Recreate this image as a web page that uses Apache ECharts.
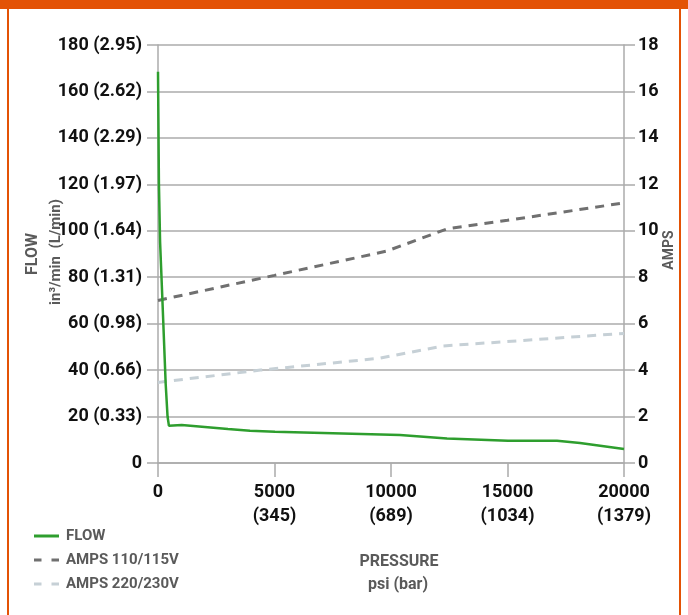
<!DOCTYPE html>
<html>
<head>
<meta charset="utf-8">
<script src="https://cdn.jsdelivr.net/npm/echarts@6/dist/echarts.min.js"></script>
<style>
  html, body { margin: 0; padding: 0; background: #fff; }
  #chart { width: 688px; height: 615px; }
</style>
</head>
<body>
<div id="chart"></div>
<script>
// ---- data ----
const flowPressure = [0, 40, 90, 190, 330, 410, 470, 515, 1017, 3000, 3949, 5022, 10386, 12404, 15022, 17125, 18112, 20000];
const flowValues   = [168.5, 120, 95, 70, 34, 20, 16, 15.4, 16.4, 14.6, 13.9, 13.5, 12.1, 10.6, 9.6, 9.6, 8.6, 6.0];

const amps110Pressure = [0, 5000, 9800, 12400, 15000, 20000];
const amps110Values   = [7.0, 8.08, 9.12, 10.08, 10.45, 11.2];

const amps220Pressure = [0, 4400, 9500, 12250, 20000];
const amps220Values   = [3.47, 4.0, 4.51, 5.04, 5.58];

const flowTickValues = [0, 20, 40, 60, 80, 100, 120, 140, 160, 180];
const flowTickLabels = ['0', '20 (0.33)', '40 (0.66)', '60 (0.98)', '80 (1.31)', '100 (1.64)', '120 (1.97)', '140 (2.29)', '160 (2.62)', '180 (2.95)'];
const pressureTickValues = [0, 5000, 10000, 15000, 20000];
const pressureTickLabels = ['0', '5000\n(345)', '10000\n(689)', '15000\n(1034)', '20000\n(1379)'];

const seriesNames = ['FLOW', 'AMPS 110/115V', 'AMPS 220/230V'];

// ---- chart ----
const FONT = "Roboto, 'Liberation Sans', sans-serif";
const GRID_C = '#ababab';
const TITLE_C = '#5a5a5a';
const ORANGE = '#e35205';

const pairs = (xs, ys) => xs.map((x, i) => [x, ys[i]]);
const lookup = (vals, labels) => (v) => {
  const i = vals.indexOf(v);
  return i >= 0 ? labels[i] : '';
};

const chart = echarts.init(document.getElementById('chart'), null, { renderer: 'canvas' });

const DASH_ICON = 'path://M0,0H7.5V3H0Z M17.5,0H25V3H17.5Z';
const SOLID_ICON = 'path://M0,0H25V3H0Z';

chart.setOption({
  animation: false,
  backgroundColor: '#ffffff',
  grid: { left: 158, right: 64, top: 45, bottom: 152, containLabel: false },
  xAxis: {
    type: 'value', min: 0, max: 20000, interval: 5000,
    axisLine: { show: true, lineStyle: { color: GRID_C, width: 1.5 } },
    axisTick: { show: true, length: 14, lineStyle: { color: GRID_C, width: 1.5 } },
    splitLine: { show: false },
    axisLabel: {
      margin: 17, color: '#111', fontFamily: FONT, fontWeight: 'bold', fontSize: 18, lineHeight: 24,
      formatter: lookup(pressureTickValues, pressureTickLabels)
    }
  },
  yAxis: [
    {
      type: 'value', position: 'left', min: 0, max: 180, interval: 20,
      axisLine: { show: true, lineStyle: { color: GRID_C, width: 1.5 } },
      axisTick: { show: true, length: 11, lineStyle: { color: GRID_C, width: 1.5 } },
      splitLine: { show: true, lineStyle: { color: GRID_C, width: 1.5 } },
      axisLabel: {
        margin: 16, color: '#111', fontFamily: FONT, fontWeight: 'bold', fontSize: 18,
        formatter: lookup(flowTickValues, flowTickLabels)
      }
    },
    {
      type: 'value', position: 'right', min: 0, max: 18, interval: 2,
      axisLine: { show: true, lineStyle: { color: GRID_C, width: 1.5 } },
      axisTick: { show: true, length: 11, lineStyle: { color: GRID_C, width: 1.5 } },
      splitLine: { show: false },
      axisLabel: { margin: 14, color: '#111', fontFamily: FONT, fontWeight: 'bold', fontSize: 18 }
    }
  ],
  legend: {
    orient: 'vertical', left: 29, top: 522, itemGap: 6,
    itemWidth: 25, itemHeight: 3,
    textStyle: { fontFamily: FONT, fontWeight: 'bold', fontSize: 15, lineHeight: 18, color: TITLE_C, padding: [0, 0, 0, 2] },
    data: [
      { name: seriesNames[0], icon: SOLID_ICON },
      { name: seriesNames[1], icon: DASH_ICON },
      { name: seriesNames[2], icon: DASH_ICON }
    ],
    selectedMode: false
  },
  series: [
    {
      name: seriesNames[1], type: 'line', yAxisIndex: 1, showSymbol: false, symbol: 'none',
      data: pairs(amps110Pressure, amps110Values),
      color: '#707070',
      lineStyle: { color: '#707070', width: 3, type: [9, 7] }
    },
    {
      name: seriesNames[2], type: 'line', yAxisIndex: 1, showSymbol: false, symbol: 'none',
      data: pairs(amps220Pressure, amps220Values),
      color: '#c6d0d6',
      lineStyle: { color: '#c6d0d6', width: 3, type: [9, 7] }
    },
    {
      name: seriesNames[0], type: 'line', yAxisIndex: 0, showSymbol: false, symbol: 'none',
      data: pairs(flowPressure, flowValues),
      color: '#2e9e2e',
      lineStyle: { color: '#2e9e2e', width: 2.5 }
    }
  ],
  graphic: [
    { type: 'rect', shape: { x: 0, y: 0, width: 688, height: 9 }, style: { fill: ORANGE }, silent: true },
    { type: 'rect', shape: { x: 7, y: 0, width: 2, height: 615 }, style: { fill: ORANGE }, silent: true },
    { type: 'rect', shape: { x: 679, y: 0, width: 2, height: 615 }, style: { fill: ORANGE }, silent: true },
    {
      type: 'text', x: 33, y: 254, rotation: Math.PI / 2,
      style: { text: 'FLOW', fontFamily: FONT, fontWeight: 'bold', fontSize: 16, fill: TITLE_C, textAlign: 'center', textVerticalAlign: 'middle' }
    },
    {
      type: 'text', x: 56, y: 252, rotation: Math.PI / 2,
      style: { text: 'in³/min  (L/min)', fontFamily: FONT, fontWeight: 'bold', fontSize: 15, fill: TITLE_C, textAlign: 'center', textVerticalAlign: 'middle' }
    },
    {
      type: 'text', x: 669, y: 250, rotation: Math.PI / 2,
      style: { text: 'AMPS', fontFamily: FONT, fontWeight: 'bold', fontSize: 14, fill: TITLE_C, textAlign: 'center', textVerticalAlign: 'middle' }
    },
    {
      type: 'text', x: 399, y: 562,
      style: { text: 'PRESSURE', fontFamily: FONT, fontWeight: 'bold', fontSize: 16, fill: TITLE_C, textAlign: 'center', textVerticalAlign: 'middle' }
    },
    {
      type: 'text', x: 398, y: 585,
      style: { text: 'psi (bar)', fontFamily: FONT, fontWeight: 'bold', fontSize: 16, fill: TITLE_C, textAlign: 'center', textVerticalAlign: 'middle' }
    }
  ]
});
</script>
</body>
</html>
